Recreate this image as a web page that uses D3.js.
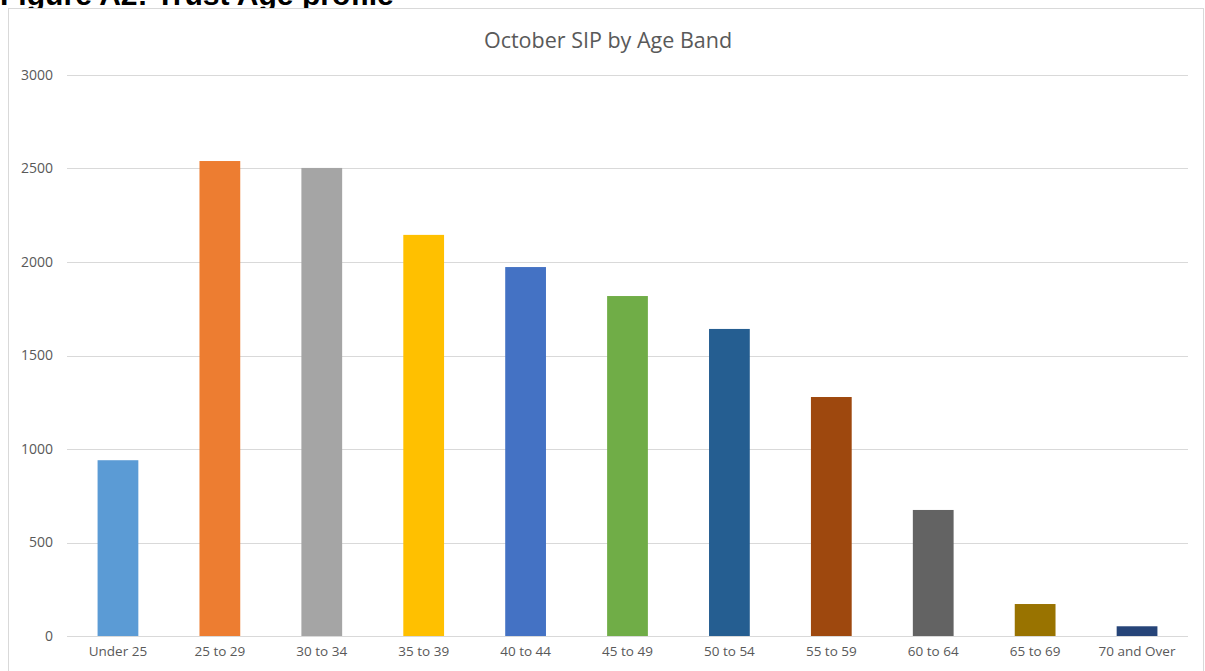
<!DOCTYPE html>
<html>
<head>
<meta charset="utf-8">
<script src="https://cdn.jsdelivr.net/npm/d3@7"></script>
<style>
  html, body { margin: 0; padding: 0; background: #fff; }
  svg { display: block; }
</style>
</head>
<body>
<svg id="chart" width="1205" height="671"></svg>
<script>
// Age bands and October SIP counts
const categories = ["Under 25", "25 to 29", "30 to 34", "35 to 39", "40 to 44", "45 to 49",
                    "50 to 54", "55 to 59", "60 to 64", "65 to 69", "70 and Over"];
const values = [940, 2540, 2503, 2145, 1973, 1818, 1642, 1278, 674, 171, 52];
const colors = ["#5B9BD5", "#ED7D31", "#A5A5A5", "#FFC000", "#4472C4", "#70AD47",
                "#255E91", "#9E480E", "#636363", "#997300", "#264478"];
const yTicks = [0, 500, 1000, 1500, 2000, 2500, 3000];

const figureTitle = "Figure A2: Trust Age profile";
const chartTitle = "October SIP by Age Band";

const svg = d3.select("#chart");
const W = 1205, H = 671;
const margin = { left: 67, right: 17, top: 75, bottom: 35 };

// Figure caption above the chart frame (runs off the top edge)
const cap = svg.append("text")
  .attr("x", 0).attr("y", 5)
  .attr("font-family", "'Liberation Sans', Arial, sans-serif")
  .attr("font-weight", "bold")
  .attr("font-size", 24)
  .attr("fill", "#000")
  .text(figureTitle);
const capW = cap.node().getComputedTextLength();
cap.attr("font-size", 24 * 394 / capW);

// Chart frame
svg.append("rect")
  .attr("x", 8.5).attr("y", 8.5)
  .attr("width", W - 10).attr("height", H)
  .attr("fill", "#fff")
  .attr("stroke", "#D9D9D9")
  .attr("stroke-width", 1);

const x = d3.scaleBand()
  .domain(categories)
  .range([margin.left, W - margin.right])
  .paddingInner(0.6)
  .paddingOuter(0.3);

const y = d3.scaleLinear()
  .domain([0, 3000])
  .range([636, margin.top]);

// Horizontal gridlines
svg.append("g")
  .selectAll("line")
  .data(yTicks)
  .join("line")
  .attr("x1", margin.left).attr("x2", W - margin.right)
  .attr("y1", d => Math.round(y(d)) + 0.5)
  .attr("y2", d => Math.round(y(d)) + 0.5)
  .attr("stroke", "#D9D9D9")
  .attr("stroke-width", 1);

// Y axis labels
const yAxis = svg.append("g")
  .attr("transform", `translate(${margin.left - 14},0)`)
  .call(d3.axisLeft(y).tickValues(yTicks).tickSize(0).tickPadding(0).tickFormat(d3.format("d")));
yAxis.select(".domain").remove();
yAxis.selectAll("text")
  .attr("font-family", "'Open Sans', sans-serif")
  .attr("font-size", 14)
  .attr("fill", "#595959");

// Bars
svg.append("g")
  .selectAll("rect")
  .data(categories)
  .join("rect")
  .attr("x", d => x(d))
  .attr("width", x.bandwidth())
  .attr("y", (d, i) => y(values[i]))
  .attr("height", (d, i) => y(0) - y(values[i]))
  .attr("fill", (d, i) => colors[i]);

// X axis labels
const xAxis = svg.append("g")
  .attr("transform", `translate(0,${y(0)})`)
  .call(d3.axisBottom(x).tickSize(0).tickPadding(10));
xAxis.select(".domain").remove();
xAxis.selectAll("text")
  .attr("font-family", "'Open Sans', sans-serif")
  .attr("font-size", 13.5)
  .attr("fill", "#595959");

// Chart title
svg.append("text")
  .attr("x", 608).attr("y", 48)
  .attr("text-anchor", "middle")
  .attr("font-family", "'Open Sans', sans-serif")
  .attr("font-size", 21.5)
  .attr("fill", "#595959")
  .text(chartTitle);
</script>
</body>
</html>
